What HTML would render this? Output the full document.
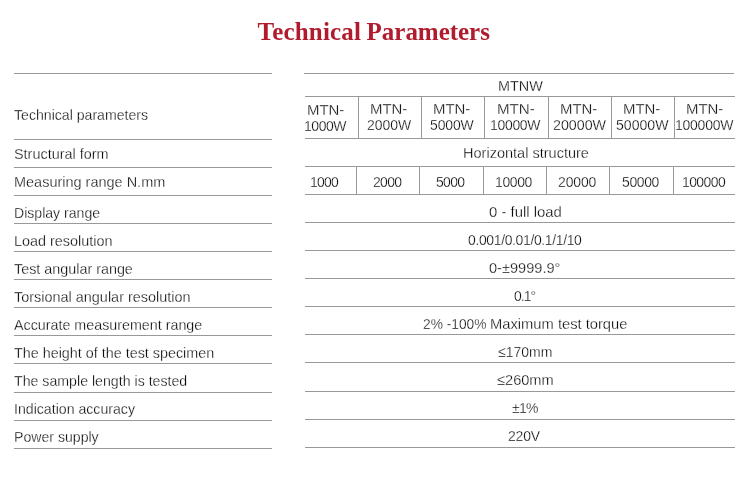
<!DOCTYPE html>
<html lang="en"><head><meta charset="utf-8"><title>Technical Parameters</title>
<style>
html,body{margin:0;padding:0;background:#fff;}
body{width:750px;height:477px;position:relative;overflow:hidden;font-family:"Liberation Sans",sans-serif;color:#000;}
h1{position:absolute;left:0;top:17px;width:750px;height:30px;margin:0;font-family:"Liberation Serif",serif;font-weight:bold;font-size:25px;line-height:30px;color:#b01c2e;white-space:nowrap;}
h1 span{position:absolute;top:0;}
.hl{position:absolute;height:1px;background:#999;}
.vl{position:absolute;width:1px;background:#999;}
.t{position:absolute;transform-origin:0 0;-webkit-text-stroke:0.3px #fff;font-size:15px;line-height:20px;white-space:nowrap;}
.b{font-size:15.5px;}
</style></head><body>
<h1><span style="left:257.60px;letter-spacing:0.185px">Technical</span> <span style="left:366.60px;letter-spacing:-0.023px">Parameters</span></h1>
<div class="hl" style="left:14px;top:73px;width:258px"></div>
<div class="hl" style="left:14px;top:139px;width:258px"></div>
<div class="hl" style="left:14px;top:167px;width:258px"></div>
<div class="hl" style="left:14px;top:195px;width:258px"></div>
<div class="hl" style="left:14px;top:223px;width:258px"></div>
<div class="hl" style="left:14px;top:251px;width:258px"></div>
<div class="hl" style="left:14px;top:279px;width:258px"></div>
<div class="hl" style="left:14px;top:307px;width:258px"></div>
<div class="hl" style="left:14px;top:335px;width:258px"></div>
<div class="hl" style="left:14px;top:363px;width:258px"></div>
<div class="hl" style="left:14px;top:392px;width:258px"></div>
<div class="hl" style="left:14px;top:420px;width:258px"></div>
<div class="hl" style="left:14px;top:448px;width:258px"></div>
<div class="hl" style="left:304px;top:73px;width:430px"></div>
<div class="hl" style="left:305px;top:96px;width:430px"></div>
<div class="hl" style="left:305px;top:138px;width:430px"></div>
<div class="hl" style="left:305px;top:166px;width:430px"></div>
<div class="hl" style="left:305px;top:194px;width:430px"></div>
<div class="hl" style="left:305px;top:222px;width:430px"></div>
<div class="hl" style="left:305px;top:250px;width:430px"></div>
<div class="hl" style="left:305px;top:278px;width:430px"></div>
<div class="hl" style="left:305px;top:306px;width:430px"></div>
<div class="hl" style="left:305px;top:334px;width:430px"></div>
<div class="hl" style="left:305px;top:362px;width:430px"></div>
<div class="hl" style="left:305px;top:391px;width:430px"></div>
<div class="hl" style="left:305px;top:419px;width:430px"></div>
<div class="hl" style="left:305px;top:447px;width:430px"></div>
<div class="vl" style="left:358px;top:96px;height:43px"></div>
<div class="vl" style="left:421px;top:96px;height:43px"></div>
<div class="vl" style="left:484px;top:96px;height:43px"></div>
<div class="vl" style="left:548px;top:96px;height:43px"></div>
<div class="vl" style="left:611px;top:96px;height:43px"></div>
<div class="vl" style="left:674px;top:96px;height:43px"></div>
<div class="vl" style="left:356px;top:166px;height:29px"></div>
<div class="vl" style="left:419px;top:166px;height:29px"></div>
<div class="vl" style="left:483px;top:166px;height:29px"></div>
<div class="vl" style="left:546px;top:166px;height:29px"></div>
<div class="vl" style="left:609px;top:166px;height:29px"></div>
<div class="vl" style="left:673px;top:166px;height:29px"></div>
<div class="t" style="left:13.89px;top:105px;transform:scaleX(0.9405)">Technical parameters</div>
<div class="t" style="left:14.09px;top:144px;transform:scaleX(0.9606)">Structural form</div>
<div class="t" style="left:13.63px;top:172px;transform:scaleX(0.9651)">Measuring range N.mm</div>
<div class="t" style="left:13.66px;top:203px;transform:scaleX(0.9385)">Display range</div>
<div class="t" style="left:13.63px;top:231px;transform:scaleX(0.9603)">Load resolution</div>
<div class="t" style="left:13.89px;top:259px;transform:scaleX(0.9565)">Test angular range</div>
<div class="t" style="left:13.89px;top:287px;transform:scaleX(0.9624)">Torsional angular resolution</div>
<div class="t" style="left:13.89px;top:315px;transform:scaleX(0.9526)">Accurate measurement range</div>
<div class="t" style="left:13.89px;top:343px;transform:scaleX(0.9567)">The height of the test specimen</div>
<div class="t" style="left:13.89px;top:371px;transform:scaleX(0.9444)">The sample length is tested</div>
<div class="t" style="left:13.65px;top:399px;transform:scaleX(0.9422)">Indication accuracy</div>
<div class="t" style="left:13.65px;top:427px;transform:scaleX(0.9404)">Power supply</div>
<div class="t b" style="left:497.67px;top:76px;transform:scaleX(0.9293)">MTNW</div>
<div class="t" style="left:462.53px;top:143px;transform:scaleX(0.9682)">Horizontal structure</div>
<div class="t b" style="left:488.59px;top:202px;transform:scaleX(0.9602)">0 - full load</div>
<div class="t b" style="left:467.59px;top:230px;letter-spacing:-0.393px;transform:scaleX(0.9000)">0.001/0.01/0.1/1/10</div>
<div class="t b" style="left:488.89px;top:258px;transform:scaleX(0.9407)">0-±9999.9°</div>
<div class="t b" style="left:513.89px;top:286px;letter-spacing:-1.068px;transform:scaleX(0.9000)">0.1°</div>
<div><span class="t" style="left:423.19px;top:314px;transform:scaleX(0.9164)">2% -100%</span> <span class="t" style="left:489.71px;top:314px;transform:scaleX(0.9813)">Maximum test torque</span></div>
<div class="t" style="left:498.19px;top:342px;transform:scaleX(0.9334)">≤170mm</div>
<div class="t" style="left:497.19px;top:370px;transform:scaleX(0.9733)">≤260mm</div>
<div class="t b" style="left:511.59px;top:398px;letter-spacing:-0.836px;transform:scaleX(0.9000)">±1%</div>
<div class="t b" style="left:508.19px;top:426px;letter-spacing:-0.209px;transform:scaleX(0.9000)">220V</div>
<div class="t b" style="left:307.03px;top:100px;transform:scaleX(0.9637)">MTN-</div>
<div class="t b" style="left:304.10px;top:116px;letter-spacing:-0.479px;transform:scaleX(0.9000)">1000W</div>
<div class="t b" style="left:370.03px;top:99px;transform:scaleX(0.9637)">MTN-</div>
<div class="t b" style="left:366.79px;top:115px;letter-spacing:-0.034px;transform:scaleX(0.9000)">2000W</div>
<div class="t b" style="left:433.03px;top:99px;transform:scaleX(0.9637)">MTN-</div>
<div class="t b" style="left:430.39px;top:115px;letter-spacing:-0.118px;transform:scaleX(0.9000)">5000W</div>
<div class="t b" style="left:496.72px;top:99px;transform:scaleX(0.9744)">MTN-</div>
<div class="t b" style="left:490.30px;top:115px;letter-spacing:-0.329px;transform:scaleX(0.9000)">10000W</div>
<div class="t b" style="left:559.93px;top:99px;transform:scaleX(0.9637)">MTN-</div>
<div class="t b" style="left:552.79px;top:115px;transform:scaleX(0.9192)">20000W</div>
<div class="t b" style="left:622.93px;top:99px;transform:scaleX(0.9637)">MTN-</div>
<div class="t b" style="left:616.39px;top:115px;transform:scaleX(0.9089)">50000W</div>
<div class="t b" style="left:685.93px;top:99px;transform:scaleX(0.9637)">MTN-</div>
<div class="t b" style="left:675.29px;top:115px;letter-spacing:-0.248px;transform:scaleX(0.9000)">100000W</div>
<div class="t b" style="left:309.50px;top:172px;letter-spacing:-0.876px;transform:scaleX(0.9000)">1000</div>
<div class="t b" style="left:372.79px;top:172px;letter-spacing:-0.765px;transform:scaleX(0.9000)">2000</div>
<div class="t b" style="left:435.79px;top:172px;letter-spacing:-0.765px;transform:scaleX(0.9000)">5000</div>
<div class="t b" style="left:495.00px;top:172px;letter-spacing:-0.395px;transform:scaleX(0.9000)">10000</div>
<div class="t b" style="left:557.89px;top:172px;letter-spacing:-0.145px;transform:scaleX(0.9000)">20000</div>
<div class="t b" style="left:621.50px;top:172px;letter-spacing:-0.395px;transform:scaleX(0.9000)">50000</div>
<div class="t b" style="left:681.50px;top:172px;letter-spacing:-0.640px;transform:scaleX(0.9000)">100000</div>
</body></html>
